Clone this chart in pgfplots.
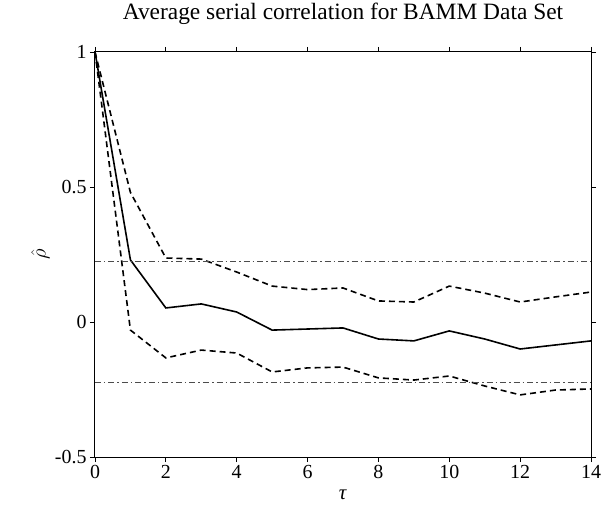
\documentclass[border=0pt]{standalone}
\usepackage{pgfplots}
\pgfplotsset{compat=1.18}
\usepackage{fontspec}
\setmainfont{Liberation Serif}
\begin{document}
\begin{tikzpicture}
\path[use as bounding box] (-95bp,-51bp) rectangle (506bp,457bp);
\begin{axis}[
  at={(0,0)}, anchor=south west,
  scale only axis, width=496bp, height=405bp,
  xmin=0, xmax=14, ymin=-0.5, ymax=1,
  xtick={0,2,...,14}, ytick={-0.5,0,0.5,1},
  tick align=outside, major tick length=5bp,
  axis line style={line width=1bp},
  every tick/.style={line width=0.8bp, black},
  tick label style={font=\fontsize{20}{24}\selectfont},
  label style={font=\fontsize{21}{24}\selectfont},
  /pgf/number format/assume math mode=true,
  title={Average serial correlation for BAMM Data Set},
  title style={font=\fontsize{23.5}{26}\selectfont, anchor=base, at={(0.5,1)}, yshift=27bp},
  xlabel={\textit{τ}},
  xlabel style={at={(axis description cs:0.5,-0.094)}, anchor=center},
  ylabel={$\hat{\rho}$},
  ylabel style={at={(axis description cs:-0.11,0.5)}, anchor=center, rotate=0},
  clip=false,
]
\addplot[black, line width=1.6bp] coordinates {
(0,1) (1,0.23) (2,0.052) (3,0.067) (4,0.037) (5,-0.03) (6,-0.026) (7,-0.022)
(8,-0.063) (9,-0.07) (10,-0.033) (11,-0.063) (12,-0.1) (13,-0.085) (14,-0.07)};
\addplot[black, line width=1.6bp, dash pattern=on 6bp off 4bp] coordinates {
(0,1) (1,0.48) (2,0.237) (3,0.233) (4,0.185) (5,0.133) (6,0.12) (7,0.126)
(8,0.078) (9,0.074) (10,0.133) (11,0.107) (12,0.074) (13,0.093) (14,0.111)};
\addplot[black, line width=1.6bp, dash pattern=on 6bp off 4bp] coordinates {
(0,1) (1,-0.03) (2,-0.133) (3,-0.104) (4,-0.115) (5,-0.185) (6,-0.17) (7,-0.167)
(8,-0.207) (9,-0.215) (10,-0.2) (11,-0.237) (12,-0.27) (13,-0.252) (14,-0.248)};
\addplot[black!70, line width=0.7bp, dash pattern=on 6bp off 3bp on 1.5bp off 3bp] coordinates {(0,0.224) (14,0.224)};
\addplot[black!70, line width=0.7bp, dash pattern=on 6bp off 3bp on 1.5bp off 3bp] coordinates {(0,-0.224) (14,-0.224)};
\end{axis}
\end{tikzpicture}
\end{document}
